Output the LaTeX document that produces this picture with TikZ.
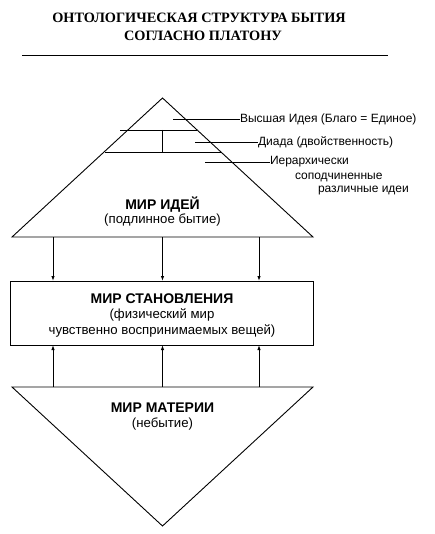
\documentclass[tikz,border=0pt]{standalone}
\usepackage{fontspec}
\setmainfont{Liberation Sans}
\newfontfamily\titlefont{Liberation Serif}
\usetikzlibrary{arrows.meta}
\begin{document}
\begin{tikzpicture}[x=1pt,y=-1pt,
  every node/.style={inner sep=0pt,outer sep=0pt},
  ln/.style={line width=0.9pt},
  arr/.style={line width=0.9pt,-{Latex[length=5pt,width=3.5pt]}},
  ttl/.style={font=\titlefont\bfseries\fontsize{14.3}{16}\selectfont,anchor=base},
  big/.style={font=\bfseries\fontsize{14}{16}\selectfont,anchor=base},
  txt/.style={font=\fontsize{13.2}{15}\selectfont,anchor=base},
  lbl/.style={font=\fontsize{12}{14}\selectfont,anchor=west},
  lblb/.style={font=\fontsize{12}{14}\selectfont,anchor=base west}]
\useasboundingbox (0,0) rectangle (434,534);
% title
\node[ttl] (t1) at (199,23) {ОНТОЛОГИЧЕСКАЯ СТРУКТУРА БЫТИЯ};
\node[ttl] (t2) at (203,41) {СОГЛАСНО ПЛАТОНУ};
\coordinate (r1) at (22,55); \coordinate (r2) at (388,55);
\draw[ln] (r1) -- (r2);
% upper triangle
\coordinate (ua) at (162.5,98);
\coordinate (ul) at (12,237);
\coordinate (ur) at (313,237);
\draw[ln] (ul) -- (ua) -- (ur) -- cycle;
\coordinate (h1l) at (120,130); \coordinate (h1r) at (197,130);
\coordinate (h2l) at (105,152); \coordinate (h2r) at (221,152);
\draw[ln] (h1l) -- (h1r);
\draw[ln] (h2l) -- (h2r);
\coordinate (v1) at (162.5,130); \coordinate (v2) at (162.5,152);
\draw[ln] (v1) -- (v2);
% labels
\node[lbl] (la) at (240,119) {Высшая Идея (Благо = Единое)};
\node[lbl] (lb) at (258,142) {Диада (двойственность)};
\node[lbl] (lc) at (270,162) {Иерархически};
\node[lblb] (lc2) at (295,180) {соподчиненные};
\node[lblb] (lc3) at (318,193) {различные идеи};
\coordinate (pa) at (173,119);
\coordinate (pb) at (195,142);
\coordinate (pc) at (205,162);
\draw[ln] (pa) -- (la.west);
\draw[ln] (pb) -- (lb.west);
\draw[ln] (pc) -- (lc.west);
\node[big] (mi) at (162.5,210) {МИР ИДЕЙ};
\node[txt] (mi2) at (162.5,223) {(подлинное бытие)};
% box
\node[draw,line width=0.9pt,minimum width=303pt,minimum height=64pt] (box) at (161.5,313) {};
\node[big] (ms) at (162,303) {МИР СТАНОВЛЕНИЯ};
\node[txt] (ms2) at (162,318) {(физический мир};
\node[txt] (ms3) at (162,334) {чувственно воспринимаемых вещей)};
% arrows down
\coordinate (u1) at (53,237); \coordinate (u2) at (162.5,237); \coordinate (u3) at (259,237);
\draw[arr] (u1) -- (u1 |- box.north);
\draw[arr] (u2) -- (u2 |- box.north);
\draw[arr] (u3) -- (u3 |- box.north);
% lower triangle
\coordinate (dl) at (12,387);
\coordinate (dr) at (313,387);
\coordinate (db) at (162.5,526);
\draw[ln] (dl) -- (dr) -- (db) -- cycle;
\coordinate (d1) at (53,387); \coordinate (d2) at (162.5,387); \coordinate (d3) at (259,387);
\draw[arr] (d1) -- (d1 |- box.south);
\draw[arr] (d2) -- (d2 |- box.south);
\draw[arr] (d3) -- (d3 |- box.south);
\node[big] (mm) at (162.5,412) {МИР МАТЕРИИ};
\node[txt] (mm2) at (162.5,427) {(небытие)};
\end{tikzpicture}
\end{document}
